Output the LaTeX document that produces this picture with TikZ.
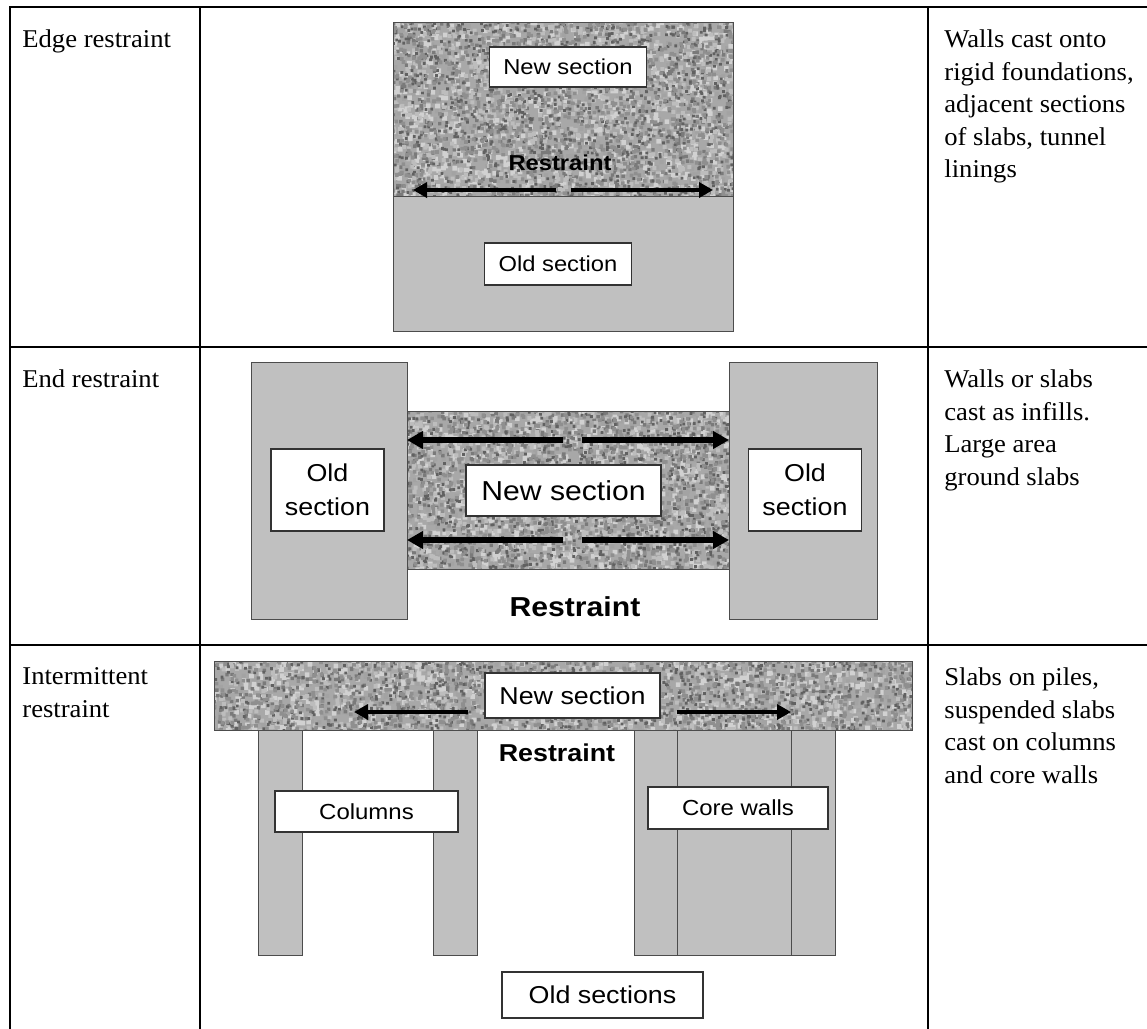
\documentclass[tikz,border=0pt]{standalone}
\usepackage{fontspec}
\setmainfont{Liberation Serif}[FakeStretch=1.04]
\setsansfont{Liberation Sans}[FakeStretch=1.1]
\usetikzlibrary{arrows.meta}

\definecolor{oldfill}{HTML}{C0C0C0}
\definecolor{newfill}{HTML}{A8A8A8}

% speckled concrete for the new pours: #1,#2 top left, #3,#4 bottom right
\newcommand\newpour[4]{%
  \begin{scope}
    \clip (#1,#2) rectangle (#3,#4);
    \fill[newfill] (#1,#2) rectangle (#3,#4);
    \pgfmathtruncatemacro\ngrain{((#3-#1)/4)*((#4-#2)/4)/4.5}
    \foreach \gs/\gw in {36/4,18/4.6,52/3.4,26/4,62/2.8,44/3.6}{
      \fill[black!\gs] \foreach \k in {1,...,\ngrain}{
        ({#1-4+rnd*(#3-#1+8)},{#2-4+rnd*(#4-#2+8)}) rectangle ++(\gw,\gw)};
    }
  \end{scope}
  \draw[outline] (#1,#2) rectangle (#3,#4);}

\pgfmathsetseed{11}

\begin{document}
\begin{tikzpicture}[x=0.5pt, y=-0.5pt,
  rule/.style={line width=1.4pt},
  outline/.style={draw=black!70, line width=0.5pt},
  oldpart/.style={outline, fill=oldfill},
  casebox/.style={font=\fontsize{12.8}{16.25}\selectfont, anchor=north west, align=left, inner sep=0pt},
  tagbox/.style={draw=black!80, fill=white, line width=0.6pt, inner sep=0pt, align=center},
  sz/.style={font=\sffamily\fontsize{#1}{#1}\selectfont},
  szb/.style={font=\sffamily\bfseries\fontsize{#1}{#1}\selectfont, inner sep=0pt},
  pull/.style={-{Triangle[length=7pt,width=7.5pt]}, line width=2.2pt},
  bigpull/.style={-{Triangle[length=8pt,width=8.5pt]}, line width=3pt}]

\useasboundingbox (0,0) rectangle (1147,1029);

% table rules
\draw[rule] (10,1029) -- (10,7) -- (1147,7);
\draw[rule] (10,347) -- (1147,347);
\draw[rule] (10,645) -- (1147,645);
\draw[rule] (200,7) -- (200,1029);
\draw[rule] (928,7) -- (928,1029);

% first column and last column
\node[casebox] (edgeKind) at (22,29.5) {Edge restraint};
\node[casebox] (edgeUse) at (944,29.5) {Walls cast onto\\rigid foundations,\\adjacent sections\\of slabs, tunnel\\linings};
\node[casebox] (endKind) at (22,369.5) {End restraint};
\node[casebox] (endUse) at (944,369.5) {Walls or slabs\\cast as infills.\\Large area\\ground slabs};
\node[casebox] (intKind) at (22,667.5) {Intermittent\\restraint};
\node[casebox] (intUse) at (944,667.5) {Slabs on piles,\\suspended slabs\\cast on columns\\and core walls};

% edge restraint
\newpour{393}{22}{733}{196}
\path[oldpart] (393,196) rectangle (733,331);
\node[tagbox, sz=10.8, minimum width=78.5pt, minimum height=20pt] (edgeNew) at (568,67) {New section};
\node[szb=10.8] (edgeRes) at (560,163) {Restraint};
\coordinate (edgeL0) at (556,190);
\coordinate (edgeL1) at (413,190);
\coordinate (edgeR0) at (571,190);
\coordinate (edgeR1) at (713,190);
\draw[pull] (edgeL0) -- (edgeL1);
\draw[pull] (edgeR0) -- (edgeR1);
\node[tagbox, sz=10.8, minimum width=73.5pt, minimum height=21pt] (edgeOld) at (558,264) {Old section};

% end restraint
\path[oldpart] (251,362) rectangle (407,619);
\path[oldpart] (729,362) rectangle (877,619);
\newpour{407}{411}{729}{569}
\coordinate (endTL0) at (563,440);
\coordinate (endTL1) at (407,440);
\coordinate (endTR0) at (582,440);
\coordinate (endTR1) at (729,440);
\coordinate (endBL0) at (563,540);
\coordinate (endBL1) at (407,540);
\coordinate (endBR0) at (582,540);
\coordinate (endBR1) at (729,540);
\draw[bigpull] (endTL0) -- (endTL1);
\draw[bigpull] (endTR0) -- (endTR1);
\draw[bigpull] (endBL0) -- (endBL1);
\draw[bigpull] (endBR0) -- (endBR1);
\node[tagbox, font=\sffamily\fontsize{12.2}{17}\selectfont, minimum width=56.5pt, minimum height=41pt] (endOldL) at (327.5,490) {Old\\section};
\node[tagbox, font=\sffamily\fontsize{12.2}{17}\selectfont, minimum width=56.5pt, minimum height=41pt] (endOldR) at (805,490) {Old\\section};
\node[tagbox, sz=13.7, minimum width=97.5pt, minimum height=25.5pt] (endNew) at (563.5,490.5) {New section};
\node[szb=13.7] (endRes) at (575,607) {Restraint};

% intermittent restraint
\newpour{214}{661}{912}{730}
\path[oldpart] (258,730) rectangle (302,955);
\path[oldpart] (433,730) rectangle (477,955);
\path[oldpart] (634,730) rectangle (835,955);
\draw[outline] (677,730) -- (677,955);
\draw[outline] (791,730) -- (791,955);
\node[tagbox, sz=12.2, minimum width=87.5pt, minimum height=22.5pt] (intNew) at (572.5,695.5) {New section};
\coordinate (intL0) at (468,712);
\coordinate (intL1) at (354,712);
\coordinate (intR0) at (677,712);
\coordinate (intR1) at (791,712);
\draw[pull] (intL0) -- (intL1);
\draw[pull] (intR0) -- (intR1);
\node[szb=12.2] (intRes) at (557,753) {Restraint};
\node[tagbox, sz=10.9, minimum width=91.5pt, minimum height=20.5pt] (intCol) at (366.5,811.5) {Columns};
\node[tagbox, sz=10.9, minimum width=90pt, minimum height=21pt] (intCore) at (738,808) {Core walls};
\node[tagbox, sz=12.2, minimum width=100.5pt, minimum height=23pt] (intOld) at (602.5,995) {Old sections};
\end{tikzpicture}
\end{document}
